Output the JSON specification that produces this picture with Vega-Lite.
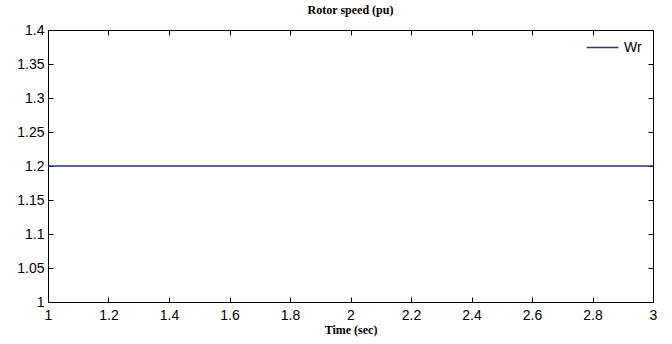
{
  "$schema": "https://vega.github.io/schema/vega-lite/v6.json",
  "autosize": {"type": "none"},
  "padding": {"left": 48, "top": 30, "right": 19, "bottom": 42},
  "width": 605,
  "height": 272,
  "background": "white",
  "title": {"text": "Rotor speed (pu)", "font": "Liberation Serif", "fontSize": 12, "fontWeight": "bold", "color": "black", "offset": 6, "anchor": "middle"},
  "data": {"values": [
    {"t": 1, "w": 1.2, "s": "Wr"},
    {"t": 3, "w": 1.2, "s": "Wr"}
  ]},
  "config": {
    "view": {"stroke": "black", "strokeWidth": 1},
    "axis": {"domainColor": "black", "tickColor": "black", "labelColor": "black", "labelFont": "Liberation Sans", "labelFontSize": 14, "grid": false, "tickSize": -5, "titleFont": "Liberation Serif", "titleFontWeight": "bold", "titleFontSize": 12, "titleColor": "black"}
  },
  "layer": [
    {
      "mark": {"type": "line", "strokeWidth": 1.3, "clip": true},
      "encoding": {
        "x": {"field": "t", "type": "quantitative", "scale": {"domain": [1, 3], "nice": false}, "axis": {"orient": "bottom", "values": [1, 1.2, 1.4, 1.6, 1.8, 2, 2.2, 2.4, 2.6, 2.8, 3], "format": "~g", "labelPadding": 11, "title": "Time (sec)", "titlePadding": 2, "labelFlush": false}},
        "y": {"field": "w", "type": "quantitative", "scale": {"domain": [1, 1.4], "nice": false, "zero": false}, "axis": {"orient": "left", "values": [1, 1.05, 1.1, 1.15, 1.2, 1.25, 1.3, 1.35, 1.4], "format": "~g", "labelPadding": 9, "title": null, "labelFlush": false}},
        "color": {"field": "s", "type": "nominal", "scale": {"range": ["#27386a"]}, "legend": {"orient": "none", "legendX": 538, "legendY": 1, "title": null, "symbolType": "stroke", "symbolSize": 1000, "symbolStrokeWidth": 1.3, "labelFont": "Liberation Sans", "labelFontSize": 14, "labelColor": "black", "padding": 0, "labelOffset": 5}}
      }
    },
    {
      "mark": {"type": "line", "opacity": 0},
      "encoding": {
        "x": {"field": "t", "type": "quantitative", "scale": {"domain": [1, 3], "nice": false}, "axis": {"orient": "top", "values": [1, 1.2, 1.4, 1.6, 1.8, 2, 2.2, 2.4, 2.6, 2.8, 3], "labels": false, "title": null}},
        "y": {"field": "w", "type": "quantitative", "scale": {"domain": [1, 1.4], "nice": false, "zero": false}, "axis": {"orient": "right", "values": [1, 1.05, 1.1, 1.15, 1.2, 1.25, 1.3, 1.35, 1.4], "labels": false, "title": null}}
      }
    }
  ],
  "resolve": {"axis": {"x": "independent", "y": "independent"}}
}
